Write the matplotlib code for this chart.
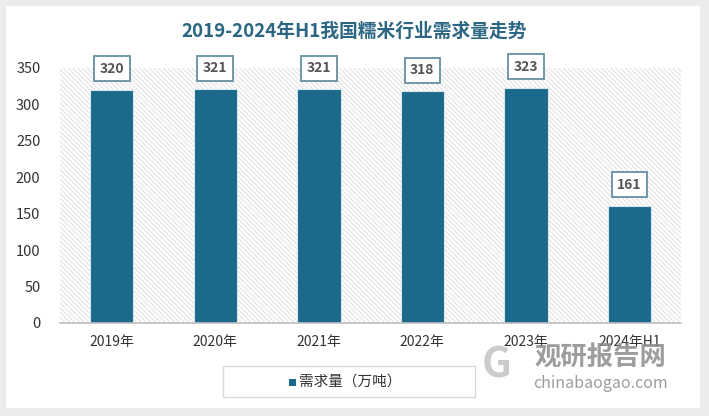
import matplotlib.pyplot as plt
from matplotlib.patches import Rectangle

plt.rcParams['font.family'] = ['Noto Sans CJK SC', 'DejaVu Sans']
plt.rcParams['hatch.linewidth'] = 0.8

# data
years = ["2019年", "2020年", "2021年", "2022年", "2023年", "2024年H1"]
demand = [320, 321, 321, 318, 323, 161]
yticks = [0, 50, 100, 150, 200, 250, 300, 350]

BAR = "#1b6a8c"

fig = plt.figure(figsize=(7.09, 4.16), dpi=100)
fig.patch.set_facecolor("#ececec")
# white card behind everything
fig.patches.append(Rectangle((0.008, 0.02), 0.98, 0.965, transform=fig.transFigure,
                             facecolor="white", edgecolor="none", zorder=-5))

ax = fig.add_axes([0.0846, 0.2236, 0.876, 0.613])
ax.set_zorder(1)
ax.set_facecolor("none")

# hatched plot background
ax.add_patch(Rectangle((0, 0), 1, 1, transform=ax.transAxes, facecolor="white",
                       edgecolor="#e2e2e2", hatch="\\" * 7, linewidth=0, zorder=0))

x = range(len(years))
ax.bar(x, demand, width=0.42, color=BAR, edgecolor="#d5e6ee", linewidth=0.8, zorder=3)

for xi, v in zip(x, demand):
    ax.annotate(str(v), (xi, v), xytext=(0, 10), textcoords="offset points",
                ha="center", va="bottom", fontsize=10, fontweight="bold", color="#555555",
                bbox=dict(boxstyle="square,pad=0.4", facecolor="white",
                          edgecolor="#6f98aa", linewidth=1.4), zorder=5)

ax.set_xlim(-0.5, len(years) - 0.5)
ax.set_ylim(0, 350)
ax.set_yticks(yticks)
ax.set_xticks(list(x))
ax.set_xticklabels(years)
ax.tick_params(axis="both", length=0, colors="#333333")
ax.tick_params(axis="y", pad=14, labelsize=10.5)
ax.tick_params(axis="x", pad=9, labelsize=10)
for s in ["top", "right", "left"]:
    ax.spines[s].set_visible(False)
ax.spines["bottom"].set_color("#bfbfbf")
ax.spines["bottom"].set_linewidth(1.2)
ax.spines["bottom"].set_zorder(4)

fig.text(0.5, 0.925, "2019-2024年H1我国糯米行业需求量走势", ha="center", va="center",
         fontsize=13.5, fontweight="bold", color="#2b6683")

# legend box
fig.patches.append(Rectangle((223 / 709, 1 - 397 / 416), 252 / 709, 31 / 416,
                             transform=fig.transFigure, facecolor="white",
                             edgecolor="#d9d9d9", linewidth=1, zorder=2))
fig.patches.append(Rectangle((289 / 709, 1 - 386 / 416), 7 / 709, 7 / 416,
                             transform=fig.transFigure, facecolor=BAR,
                             edgecolor="none", zorder=3))
fig.text(299 / 709, 1 - 382 / 416, "需求量（万吨）", ha="left", va="center",
         fontsize=10.5, color="#333333", zorder=4)

# watermark
fig.text(600 / 709, 1 - 358 / 416, "观研报告网", ha="center", va="center",
         fontsize=19, fontweight="bold", color="#8c8c8c", alpha=0.85, zorder=6)
fig.text(600 / 709, 1 - 383 / 416, "chinabaogao.com", ha="center", va="center",
         fontsize=11.5, color="#8c8c8c", alpha=0.85, zorder=6)
fig.text(497 / 709, 1 - 365 / 416, "G", ha="center", va="center",
         fontsize=30, fontweight="bold", color="#b5b5b5", alpha=0.7, zorder=6)

fig.savefig("out.png", dpi=100)
